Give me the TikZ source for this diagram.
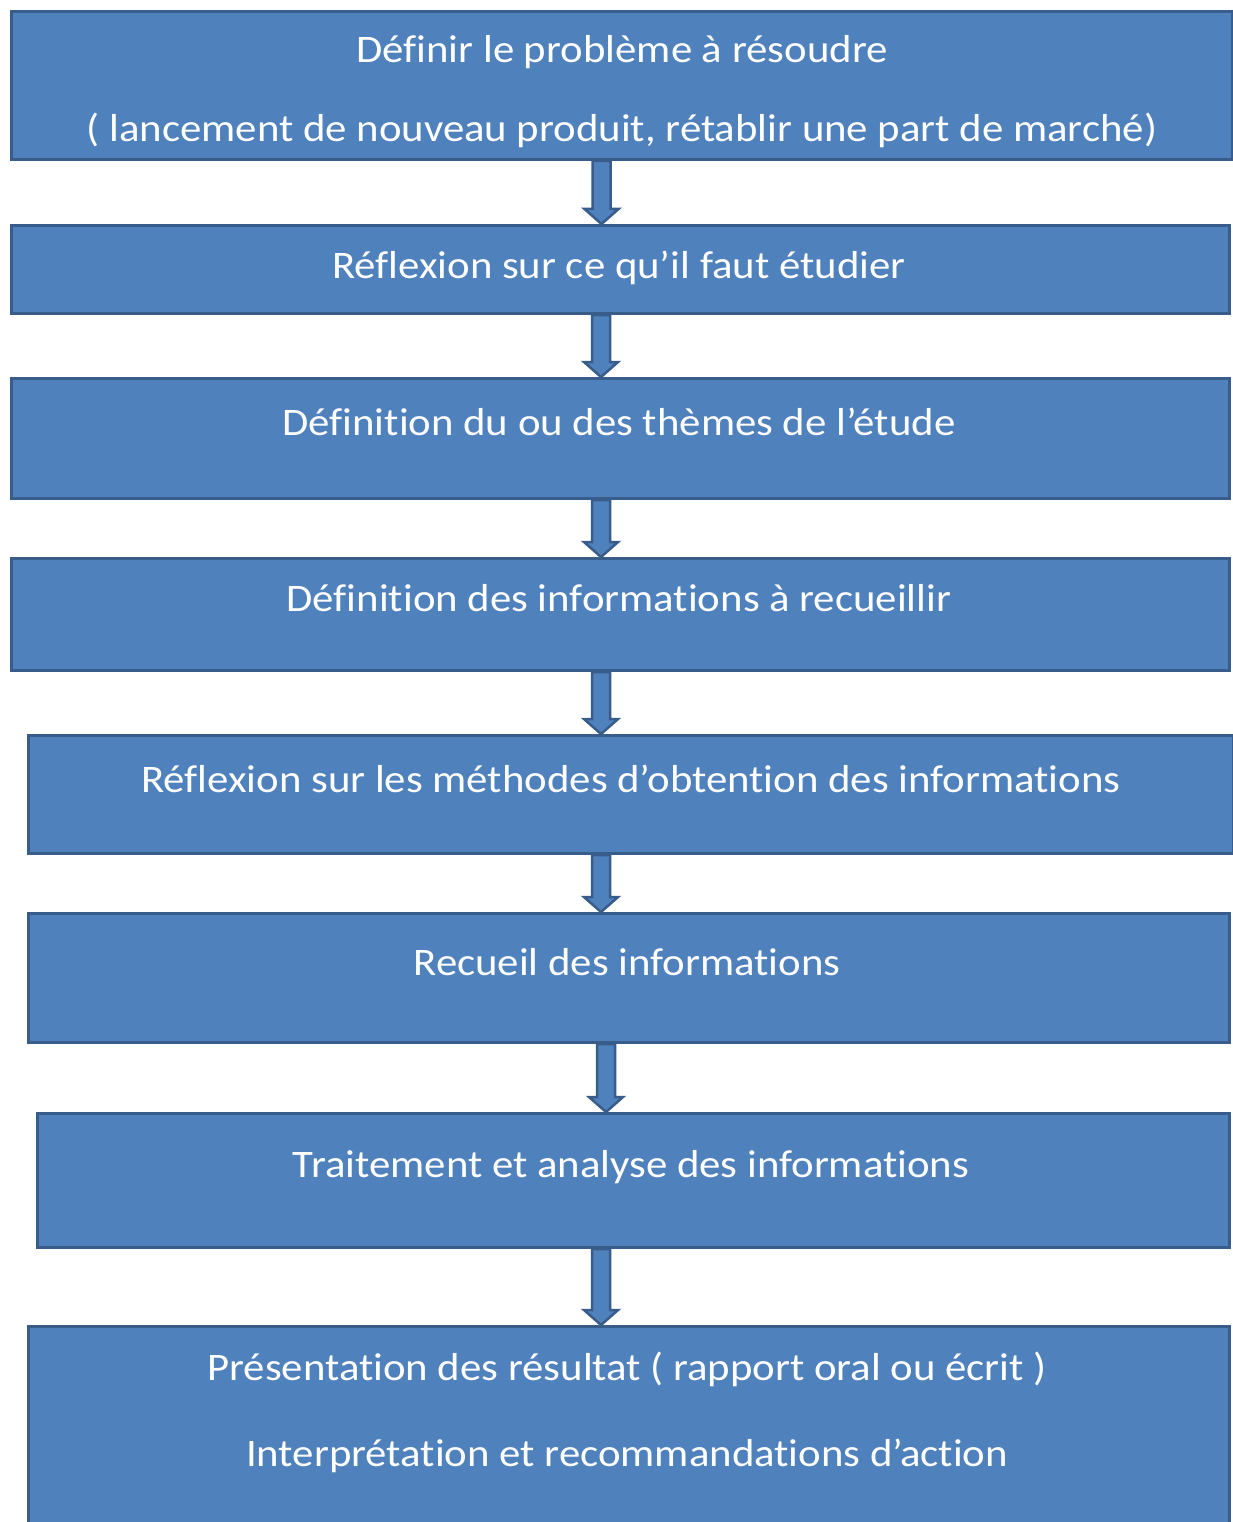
\documentclass[tikz,border=0pt]{standalone}
\usepackage{fontspec}
\setmainfont[Ligatures={NoCommon},FakeStretch=1.097]{Carlito}
\definecolor{boxfill}{HTML}{4F81BD}
\definecolor{boxline}{HTML}{385D8A}
\tikzset{
  stepbox/.style={draw=boxline, fill=boxfill, line width=3pt, rectangle, inner sep=0pt, anchor=north west},
  steptext/.style={text=white, anchor=base, inner sep=0pt, font=\fontsize{39}{46}\selectfont},
  blockarr/.style={draw=boxline, fill=boxfill, line width=2.5pt, line join=miter},
}
\newcommand{\blockarrow}[3]{%
  \path[blockarr] let \p1=(#1.south), \p2=(#2.north) in
    ({#3pt-9pt},\y1) -- ({#3pt+9pt},\y1) -- ({#3pt+9pt},{\y2+15pt}) -- ({#3pt+17pt},{\y2+15pt})
    -- ({#3pt},\y2) -- ({#3pt-17pt},{\y2+15pt}) -- ({#3pt-9pt},{\y2+15pt}) -- cycle;}
\usetikzlibrary{calc}
\begin{document}
\begin{tikzpicture}[x=1pt,y=-1pt]
\useasboundingbox (0,0) rectangle (1233,1522);
\fill[white] (0,0) rectangle (1233,1522);
\clip (0,0) rectangle (1233,1522);
\node[stepbox, minimum width=1221pt, minimum height=148pt] (b1) at (10,10) {};
\node[stepbox, minimum width=1218pt, minimum height=88pt] (b2) at (10,224) {};
\node[stepbox, minimum width=1218pt, minimum height=120pt] (b3) at (10,377) {};
\node[stepbox, minimum width=1218pt, minimum height=112pt] (b4) at (10,557) {};
\node[stepbox, minimum width=1205pt, minimum height=118pt] (b5) at (27,734) {};
\node[stepbox, minimum width=1201pt, minimum height=129pt] (b6) at (27,912) {};
\node[stepbox, minimum width=1192pt, minimum height=134pt] (b7) at (36,1112) {};
\node[stepbox, minimum width=1201pt, minimum height=215pt] (b8) at (27,1325) {};

\blockarrow{b1}{b2}{601.5}
\blockarrow{b2}{b3}{601}
\blockarrow{b3}{b4}{601}
\blockarrow{b4}{b5}{601}
\blockarrow{b5}{b6}{601}
\blockarrow{b6}{b7}{606}
\blockarrow{b7}{b8}{601}

\node[steptext] (t1a) at (622,63) {Définir le problème à résoudre};
\node[steptext] (t1b) at (622,142) {( lancement de nouveau produit, rétablir une part de marché)};
\node[steptext] (t2) at (619,278) {Réflexion sur ce qu’il faut étudier};
\node[steptext] (t3) at (619,435) {Définition du ou des thèmes de l’étude};
\node[steptext] (t4) at (619,611) {Définition des informations à recueillir};
\node[steptext] (t5) at (631,792) {Réflexion sur les méthodes d’obtention des informations};
\node[steptext] (t6) at (627,975) {Recueil des informations};
\node[steptext] (t7) at (631,1177) {Traitement et analyse des informations};
\node[steptext] (t8a) at (627,1380) {Présentation des résultat ( rapport oral ou écrit )};
\node[steptext] (t8b) at (627,1466) {Interprétation et recommandations d’action};
\end{tikzpicture}
\end{document}
